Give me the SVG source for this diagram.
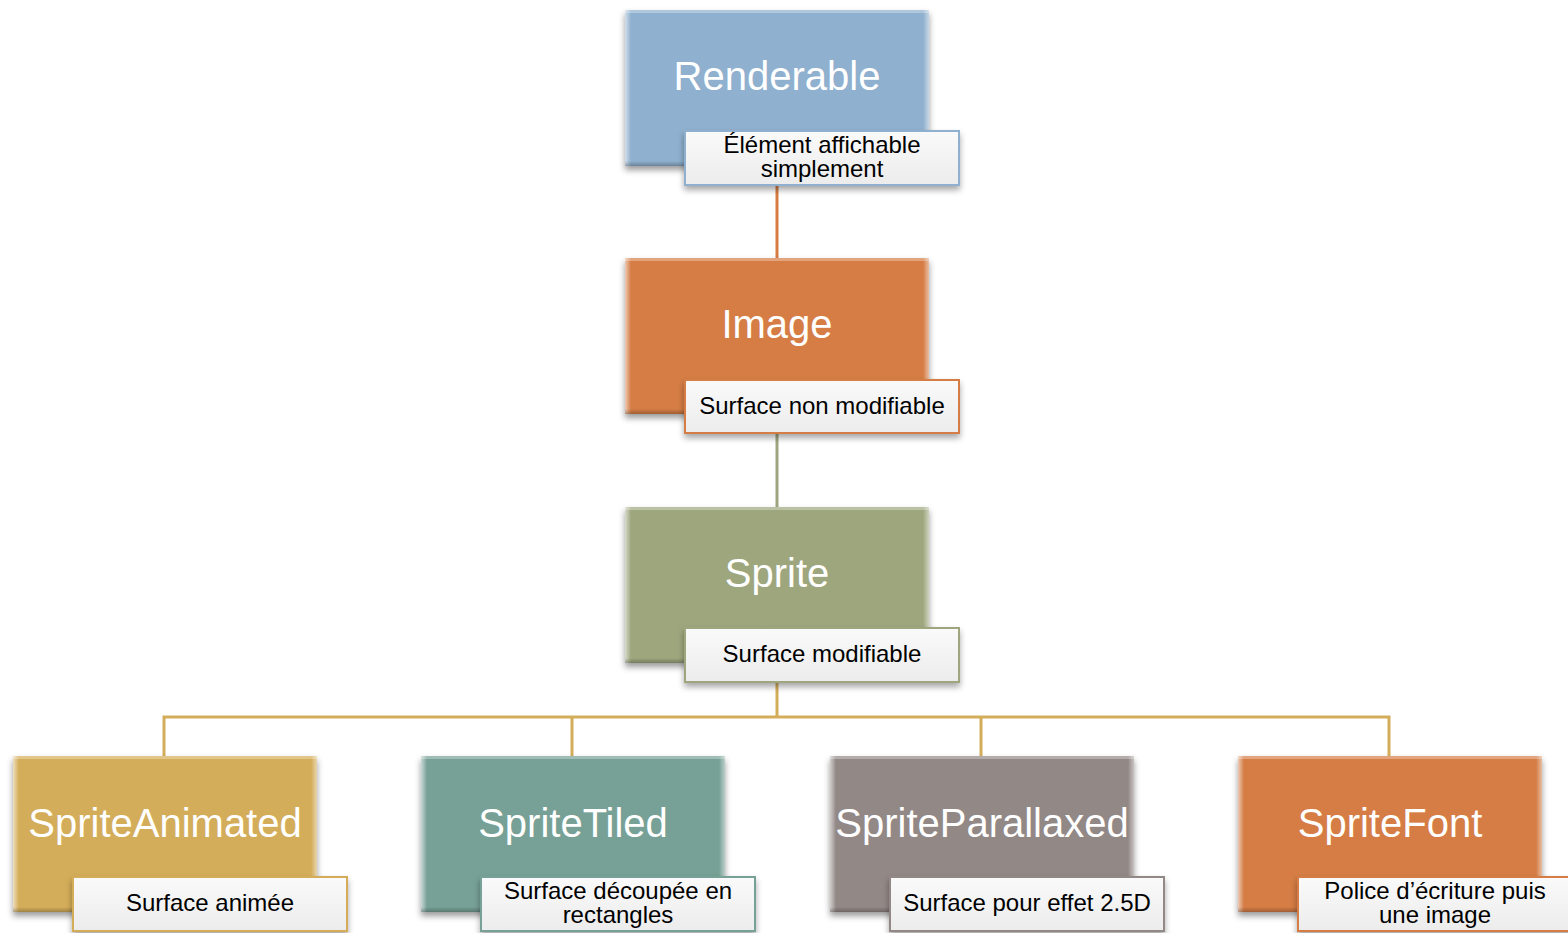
<svg xmlns="http://www.w3.org/2000/svg" width="1568" height="933" viewBox="0 0 1568 933">
<style>
.title{font-family:"Liberation Sans",Arial,sans-serif;font-size:40px;fill:#ffffff;text-anchor:middle}
.lab{font-family:"Liberation Sans",Arial,sans-serif;font-size:24px;fill:#000000;text-anchor:middle}
.box{filter:url(#sh)}
.hl{fill:none;stroke:#ffffff;stroke-opacity:0.45;stroke-width:3}
.lb{fill:url(#lg);stroke-width:2;filter:url(#sh2)}
.conn{fill:none;stroke-width:3}
</style>
<defs>
<filter id="sh" x="-10%" y="-10%" width="120%" height="130%">
<feDropShadow dx="0" dy="4" stdDeviation="3" flood-color="#000" flood-opacity="0.4"/>
</filter>
<filter id="sh2" x="-10%" y="-20%" width="120%" height="150%">
<feDropShadow dx="0" dy="4" stdDeviation="3" flood-color="#000" flood-opacity="0.35"/>
</filter>
<linearGradient id="lg" x1="0" y1="0" x2="0" y2="1">
<stop offset="0" stop-color="#fafafa"/>
<stop offset="1" stop-color="#ececec"/>
</linearGradient>
<linearGradient id="edgeL" x1="0" y1="0" x2="1" y2="0">
<stop offset="0" stop-color="#ffffff" stop-opacity="0.6"/>
<stop offset="1" stop-color="#ffffff" stop-opacity="0"/>
</linearGradient>
<linearGradient id="edgeR" x1="1" y1="0" x2="0" y2="0">
<stop offset="0" stop-color="#ffffff" stop-opacity="0.5"/>
<stop offset="1" stop-color="#ffffff" stop-opacity="0"/>
</linearGradient>
<linearGradient id="edgeB" x1="0" y1="1" x2="0" y2="0">
<stop offset="0" stop-color="#000000" stop-opacity="0.25"/>
<stop offset="1" stop-color="#000000" stop-opacity="0"/>
</linearGradient>
<g id="bevel">
<rect x="0" y="0" width="6" height="156" fill="url(#edgeL)"/>
<rect x="298" y="0" width="6" height="156" fill="url(#edgeR)"/>
<rect x="0" y="0" width="304" height="3" fill="#ffffff" fill-opacity="0.3"/>
<rect x="0" y="151" width="304" height="5" fill="url(#edgeB)"/>
</g>
</defs>

<g id="connectors">
<line class="conn" x1="777" y1="166" x2="777" y2="258" stroke="#d67c45"/>
<line class="conn" x1="777" y1="414" x2="777" y2="507" stroke="#9ea67e"/>
<path class="conn" d="M777 663 V717 M164 756 V717 H1389 V756 M572 717 V756 M981 717 V756" stroke="#d4ad5a"/>
</g>

<g id="renderable">
<rect class="box" x="625" y="10" width="304" height="156" fill="#8fb0ce"/>
<use href="#bevel" x="625" y="10"/>
<text class="title" x="777" y="90">Renderable</text>
<rect class="lb" x="685" y="131" width="274" height="54" stroke="#8fb0ce"/>
<text class="lab" x="822" y="153">Élément affichable</text>
<text class="lab" x="822" y="177">simplement</text>
</g>

<g id="image">
<rect class="box" x="625" y="258" width="304" height="156" fill="#d57d45"/>
<use href="#bevel" x="625" y="258"/>
<text class="title" x="777" y="338">Image</text>
<rect class="lb" x="685" y="380" width="274" height="53" stroke="#d57d45"/>
<text class="lab" x="822" y="414">Surface non modifiable</text>
</g>

<g id="sprite">
<rect class="box" x="625" y="507" width="304" height="156" fill="#9ea67e"/>
<use href="#bevel" x="625" y="507"/>
<text class="title" x="777" y="587">Sprite</text>
<rect class="lb" x="685" y="628" width="274" height="54" stroke="#9ea67e"/>
<text class="lab" x="822" y="662">Surface modifiable</text>
</g>

<g id="spriteanimated">
<rect class="box" x="13" y="756" width="304" height="156" fill="#d4ad5a"/>
<use href="#bevel" x="13" y="756"/>
<text class="title" x="165" y="837">SpriteAnimated</text>
<rect class="lb" x="73" y="877" width="274" height="54" stroke="#d4ad5a"/>
<text class="lab" x="210" y="911">Surface animée</text>
</g>

<g id="spritetiled">
<rect class="box" x="421" y="756" width="304" height="156" fill="#77a196"/>
<use href="#bevel" x="421" y="756"/>
<text class="title" x="573" y="837">SpriteTiled</text>
<rect class="lb" x="481" y="877" width="274" height="54" stroke="#77a196"/>
<text class="lab" x="618" y="899">Surface découpée en</text>
<text class="lab" x="618" y="923">rectangles</text>
</g>

<g id="spriteparallaxed">
<rect class="box" x="830" y="756" width="304" height="156" fill="#928886"/>
<use href="#bevel" x="830" y="756"/>
<text class="title" x="982" y="837">SpriteParallaxed</text>
<rect class="lb" x="890" y="877" width="274" height="54" stroke="#928886"/>
<text class="lab" x="1027" y="911">Surface pour effet 2.5D</text>
</g>

<g id="spritefont">
<rect class="box" x="1238" y="756" width="304" height="156" fill="#d57d45"/>
<use href="#bevel" x="1238" y="756"/>
<text class="title" x="1390" y="837">SpriteFont</text>
<rect class="lb" x="1298" y="877" width="274" height="54" stroke="#d57d45"/>
<text class="lab" x="1435" y="899">Police d’écriture puis</text>
<text class="lab" x="1435" y="923">une image</text>
</g>
</svg>
